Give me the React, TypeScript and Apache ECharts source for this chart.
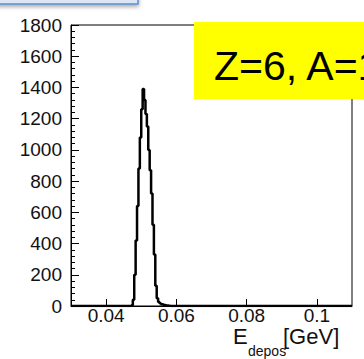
import React, { useEffect, useRef } from "react";
import * as echarts from "echarts";

// Histogram binning (GeV)
const binStart = 0.0468;
const binWidth = 0.0004;
const counts = [
  0, 5, 40, 200, 420, 640, 880, 1080, 1260, 1390, 1320, 1230, 1150, 1000, 870,
  720, 520, 330, 130, 50, 25, 18, 12, 8, 6, 4, 3, 2, 0,
];
const xTicks = [0.04, 0.06, 0.08, 0.1];
const xMin = 0.03;
const xMax = 0.11;
const yMin = 0;
const yMax = 1800;
const yStep = 200;
const labelText = "Z=6, A=12";

export default function App() {
  const ref = useRef<HTMLDivElement>(null);
  useEffect(() => {
    document.body.style.margin = "0";
    const chart = echarts.init(ref.current!, null, { renderer: "svg" });
    const data: number[][] = [[xMin, 0]];
    counts.forEach((c, i) => data.push([binStart + i * binWidth, c]));
    data.push([binStart + counts.length * binWidth, 0]);
    data.push([xMax, 0]);
    const font = "Liberation Sans";
    chart.setOption({
      animation: false,
      grid: {
        left: 71,
        top: 25,
        width: 281,
        height: 281,
        show: true,
        borderColor: "#000",
        borderWidth: 1,
        backgroundColor: "transparent",
      },
      xAxis: {
        type: "value",
        min: xMin,
        max: xMax,
        axisLine: { show: true, onZero: false, lineStyle: { color: "#000", width: 1 } },
        axisTick: { show: true, inside: true, length: 7, customValues: xTicks, lineStyle: { color: "#000" } },
        axisLabel: {
          customValues: xTicks,
          color: "#111",
          fontFamily: font,
          fontSize: 19,
          margin: 0,
          formatter: (v: number) => String(v),
        },
        splitLine: { show: false },
      },
      yAxis: {
        type: "value",
        min: yMin,
        max: yMax,
        interval: yStep,
        axisLine: { show: true, lineStyle: { color: "#000", width: 1 } },
        axisTick: { show: true, inside: true, length: 8, lineStyle: { color: "#000" } },
        minorTick: { show: true, splitNumber: 5, length: 4, lineStyle: { color: "#000" } },
        axisLabel: {
          color: "#111",
          fontFamily: font,
          fontSize: 19,
          margin: 9,
          formatter: (v: number) => String(v),
        },
        splitLine: { show: false },
      },
      series: [
        {
          type: "line",
          step: "end",
          data,
          symbol: "none",
          lineStyle: { color: "#000", width: 2.5 },
          z: 5,
        },
      ],
      graphic: [
        {
          type: "rect",
          shape: { x: -4, y: -12, width: 142, height: 16 },
          style: {
            fill: "#dbe7f5",
            stroke: "#5b8fcb",
            lineWidth: 1.5,
            shadowBlur: 4,
            shadowOffsetY: 2,
            shadowColor: "rgba(0,0,0,0.35)",
          },
        },
        {
          type: "rect",
          shape: { x: 194, y: 22, width: 180, height: 77 },
          style: { fill: "#ffff00" },
          z: 10,
        },
        {
          type: "text",
          x: 214,
          y: 66,
          style: {
            text: labelText,
            fontFamily: font,
            fontSize: 41,
            fill: "#000",
            verticalAlign: "middle",
          },
          z: 11,
        },
        {
          type: "text",
          x: 233,
          y: 336,
          style: { text: "E", fontFamily: font, fontSize: 22, fill: "#111", verticalAlign: "middle" },
        },
        {
          type: "text",
          x: 248,
          y: 351,
          style: { text: "depos", fontFamily: font, fontSize: 14, fill: "#111", verticalAlign: "middle" },
        },
        {
          type: "text",
          x: 283,
          y: 336,
          style: { text: "[GeV]", fontFamily: font, fontSize: 22, fill: "#111", verticalAlign: "middle" },
        },
      ],
    });
    return () => chart.dispose();
  }, []);
  return <div ref={ref} style={{ width: 364, height: 359 }} />;
}
